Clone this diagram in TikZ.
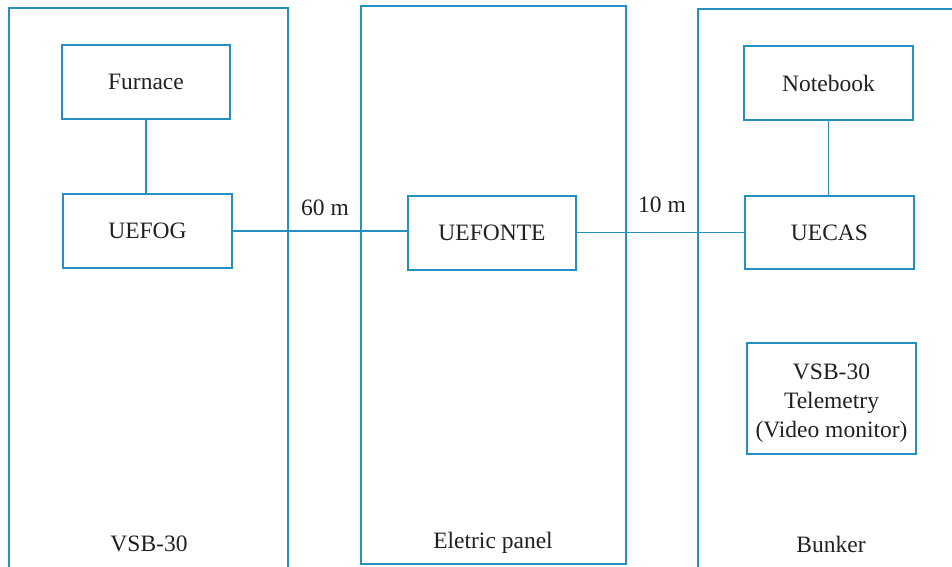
\documentclass[tikz,border=0pt]{standalone}
\usepackage{fontspec}
\setmainfont{Liberation Serif}
\definecolor{lineblue}{RGB}{38,143,193}
\definecolor{txt}{RGB}{35,31,32}
\begin{document}
\begin{tikzpicture}[x=1pt,y=-1pt,
  box/.style={draw=lineblue,line width=1.5pt,inner sep=0pt,align=center,text=txt,
     font=\fontsize{23.5}{29}\selectfont},
  zone/.style={draw=lineblue,line width=1.5pt},
  lbl/.style={text=txt,inner sep=0pt,font=\fontsize{23.5}{29}\selectfont},
  conn/.style={draw=lineblue,line width=1.5pt}]
\useasboundingbox (0,0) rectangle (952,566);
\begin{scope}
\clip (0,0) rectangle (952,566);
\draw[zone] (9,580) -- (9,8) -- (288,8) -- (288,580);
\draw[zone] (361,6) rectangle (626,564);
\draw[zone] (698,580) -- (698,9) -- (960,9);
\end{scope}
\node[box,minimum width=168,minimum height=74] (furnace) at (146,82) {Furnace};
\node[box,minimum width=169,minimum height=74] (uefog) at (147.5,231) {UEFOG};
\node[box,minimum width=168,minimum height=74] (uefonte) at (492,233) {UEFONTE};
\node[box,minimum width=169,minimum height=73] (uecas) at (829.5,232.5) {UECAS};
\node[box,minimum width=169,minimum height=74] (notebook) at (828.5,83) {Notebook};
\node[box,minimum width=169,minimum height=111] (telemetry) at (831.5,398.5)
  {\raisebox{-4pt}[\height][\depth]{\begin{tabular}{@{}c@{}}VSB-30\\Telemetry\\(Video monitor)\end{tabular}}};
\draw[conn] (furnace.south) -- (uefog.north -| furnace.south);
\draw[conn] (uefog.east) -- (uefonte.west |- uefog.east);
\draw[conn] (uefonte.east |- uecas.west) -- (uecas.west);
\draw[conn] (notebook.south) -- (uecas.north -| notebook.south);
\node[lbl] (d60) at (325,208) {60 m};
\node[lbl] (d10) at (662,205) {10 m};
\node[lbl] (zvsb) at (149,544) {VSB-30};
\node[lbl] (zpanel) at (493,543) {Eletric panel};
\node[lbl] (zbunker) at (831,544) {Bunker};
\end{tikzpicture}
\end{document}
